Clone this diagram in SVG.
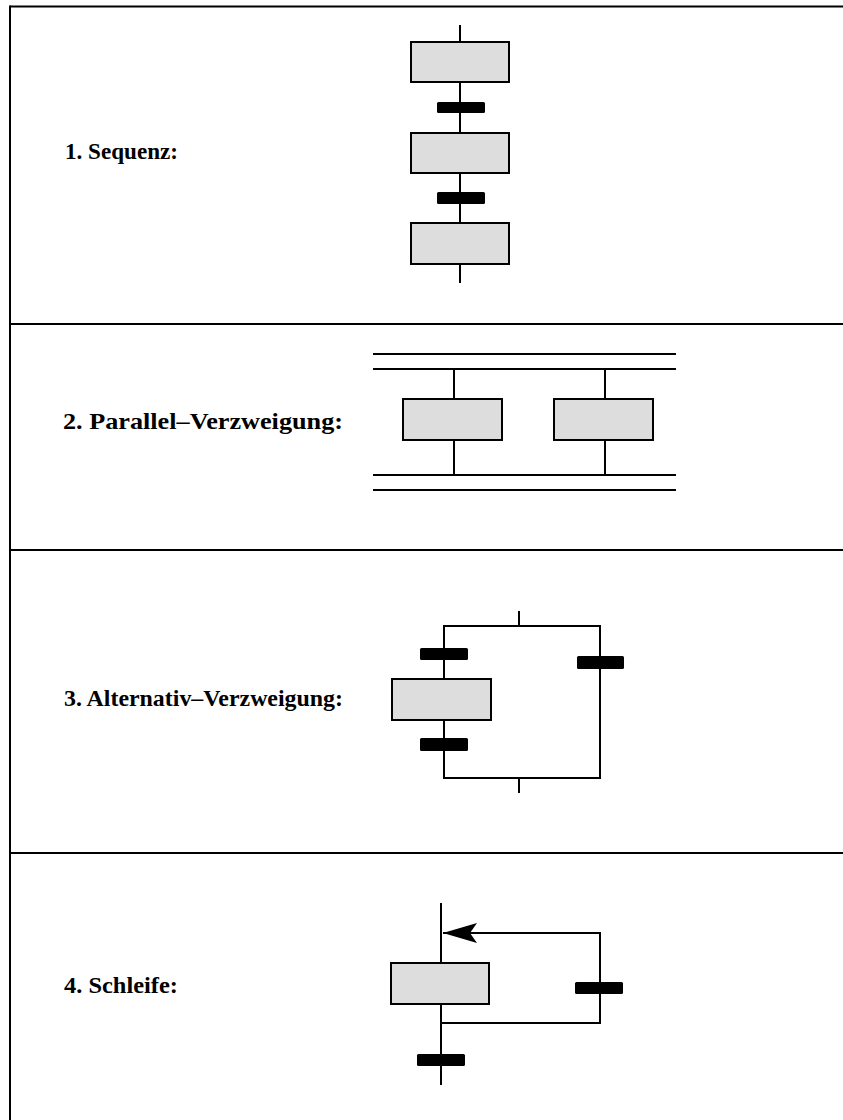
<svg xmlns="http://www.w3.org/2000/svg" width="843" height="1120" viewBox="0 0 843 1120">
  <style>
    .frame { stroke: #000; stroke-width: 2; fill: none; }
    .line { stroke: #000; stroke-width: 2; fill: none; }
    .step { fill: #dddddd; stroke: #000; stroke-width: 2; }
    .trans { fill: #000; }
    .label { font-family: "Liberation Serif", "Times New Roman", serif; font-weight: bold; font-size: 24px; fill: #000; }
  </style>
  <defs>
    <marker id="arrow" viewBox="0 0 34 20" refX="34" refY="10" markerWidth="34" markerHeight="20" markerUnits="userSpaceOnUse" orient="auto">
      <path d="M34,10 L0,0 L7,10 L0,20 Z" fill="#000"/>
    </marker>
  </defs>
  <rect width="843" height="1120" fill="#fff"/>

  <!-- outer frame and section dividers -->
  <g id="frame">
    <line class="frame" x1="10" y1="6.5" x2="843" y2="6.5"/>
    <line class="frame" x1="10" y1="5.5" x2="10" y2="1120"/>
    <line class="frame" x1="10" y1="324" x2="843" y2="324"/>
    <line class="frame" x1="10" y1="550" x2="843" y2="550"/>
    <line class="frame" x1="10" y1="853" x2="843" y2="853"/>
  </g>

  <!-- labels -->
  <g id="labels">
    <text class="label" x="65" y="159" textLength="113" lengthAdjust="spacingAndGlyphs">1. Sequenz:</text>
    <text class="label" x="63" y="429" textLength="280" lengthAdjust="spacingAndGlyphs">2. Parallel–Verzweigung:</text>
    <text class="label" x="64" y="706" textLength="279" lengthAdjust="spacingAndGlyphs">3. Alternativ–Verzweigung:</text>
    <text class="label" x="64" y="993" textLength="114" lengthAdjust="spacingAndGlyphs">4. Schleife:</text>
  </g>

  <!-- connectors -->
  <g id="connectors">
    <!-- sequence -->
    <line class="line" x1="460" y1="25" x2="460" y2="283"/>
    <!-- parallel branch -->
    <line class="line" x1="373" y1="354" x2="676" y2="354"/>
    <line class="line" x1="373" y1="369" x2="676" y2="369"/>
    <line class="line" x1="373" y1="475" x2="676" y2="475"/>
    <line class="line" x1="373" y1="490" x2="676" y2="490"/>
    <line class="line" x1="454" y1="369" x2="454" y2="475"/>
    <line class="line" x1="605" y1="369" x2="605" y2="475"/>
    <!-- alternative branch -->
    <line class="line" x1="519" y1="611" x2="519" y2="626"/>
    <path class="line" d="M444,778 V626 H600 V778 Z"/>
    <line class="line" x1="519" y1="778" x2="519" y2="793"/>
    <!-- loop -->
    <line class="line" x1="441" y1="903" x2="441" y2="1085"/>
    <path class="line" d="M441,1023 H600 V933 H443" marker-end="url(#arrow)"/>
  </g>

  <!-- section 1: sequence -->
  <g id="seq-step1"><rect class="step" x="411" y="42" width="98" height="40"/></g>
  <g id="seq-trans1"><rect class="trans" x="437" y="102" width="48" height="11" rx="1.5"/></g>
  <g id="seq-step2"><rect class="step" x="411" y="133" width="98" height="40"/></g>
  <g id="seq-trans2"><rect class="trans" x="437" y="192" width="48" height="12" rx="1.5"/></g>
  <g id="seq-step3"><rect class="step" x="411" y="223" width="98" height="41"/></g>

  <!-- section 2: parallel branch -->
  <g id="par-step1"><rect class="step" x="403" y="399" width="99" height="41"/></g>
  <g id="par-step2"><rect class="step" x="554" y="399" width="99" height="41"/></g>

  <!-- section 3: alternative branch -->
  <g id="alt-trans1"><rect class="trans" x="420" y="648" width="48" height="12" rx="1.5"/></g>
  <g id="alt-step"><rect class="step" x="392" y="679" width="99" height="41"/></g>
  <g id="alt-trans2"><rect class="trans" x="420" y="738" width="48" height="13" rx="1.5"/></g>
  <g id="alt-trans3"><rect class="trans" x="577" y="656" width="47" height="13" rx="1.5"/></g>

  <!-- section 4: loop -->
  <g id="loop-step"><rect class="step" x="391" y="963" width="98" height="41"/></g>
  <g id="loop-trans1"><rect class="trans" x="575" y="982" width="48" height="12" rx="1.5"/></g>
  <g id="loop-trans2"><rect class="trans" x="417" y="1054" width="48" height="12" rx="1.5"/></g>
</svg>
